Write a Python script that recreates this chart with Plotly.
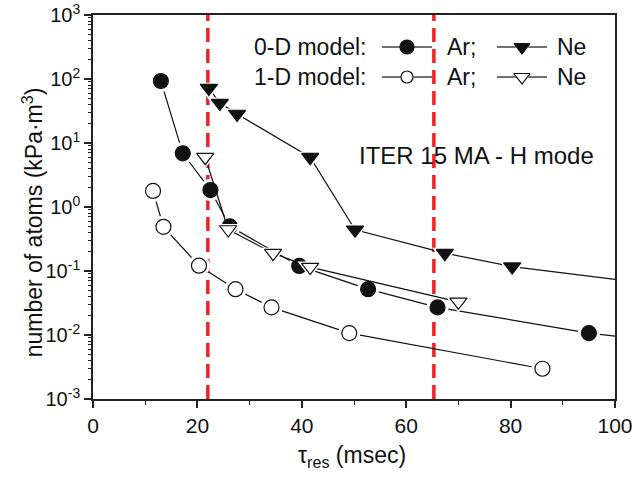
import plotly.graph_objects as go

# Residence time (msec) vs. number of impurity atoms (kPa·m^3)
ar_0d_tau = [13.0, 17.2, 22.5, 26.2, 39.5, 52.7, 66.0, 95.0]
ar_0d_n = [93.0, 6.9, 1.84, 0.50, 0.12, 0.052, 0.027, 0.0107]
ar_0d_tail = (100.0, 0.0096)

ne_0d_tau = [22.2, 24.3, 27.6, 41.6, 50.2, 67.4, 80.3]
ne_0d_n = [72.0, 42.0, 28.4, 6.0, 0.44, 0.19, 0.117]
ne_0d_tail = (100.0, 0.074)

ar_1d_tau = [11.5, 13.5, 20.3, 27.3, 34.2, 49.1, 86.1]
ar_1d_n = [1.78, 0.49, 0.121, 0.052, 0.027, 0.0107, 0.00297]

ne_1d_tau = [21.5, 25.9, 34.5, 41.6, 70.0]
ne_1d_n = [6.0, 0.445, 0.19, 0.115, 0.033]

# vertical reference lines (msec)
tau_limits = [22.0, 65.3]

y_tick_exps = [-3, -2, -1, 0, 1, 2, 3]
x_tick_vals = [0, 20, 40, 60, 80, 100]

FONT = "Liberation Sans, Arial, sans-serif"
INK = "#111111"

fig = go.Figure()


def add_series(xs, ys, symbol, filled, size, tail=None):
    lx, ly = list(xs), list(ys)
    if tail is not None:
        lx.append(tail[0])
        ly.append(tail[1])
    fig.add_trace(go.Scatter(x=lx, y=ly, mode="lines",
                             line=dict(color=INK, width=1.2),
                             hoverinfo="skip", showlegend=False))
    # white halo so the connecting line stops short of each symbol
    fig.add_trace(go.Scatter(x=xs, y=ys, mode="markers",
                             marker=dict(symbol=symbol, size=size + 7, color="white",
                                         line=dict(width=0)),
                             hoverinfo="skip", showlegend=False))
    fig.add_trace(go.Scatter(x=xs, y=ys, mode="markers",
                             marker=dict(symbol=symbol, size=size,
                                         color=INK if filled else "white",
                                         line=dict(color=INK, width=1.2)),
                             showlegend=False))


add_series(ar_0d_tau, ar_0d_n, "circle", True, 15, ar_0d_tail)
add_series(ne_0d_tau, ne_0d_n, "triangle-down", True, 15, ne_0d_tail)
add_series(ar_1d_tau, ar_1d_n, "circle", False, 15)
add_series(ne_1d_tau, ne_1d_n, "triangle-down", False, 15)

# hand-built key, drawn on an overlay axis spanning the plot area (0..1)
def key_sample(xc, yc, symbol, filled, size):
    half = 0.048
    for x0, x1 in ((xc - half, xc - 0.012), (xc + 0.012, xc + half)):
        fig.add_trace(go.Scatter(x=[x0, x1], y=[yc, yc], mode="lines",
                                 line=dict(color=INK, width=1.2),
                                 xaxis="x2", yaxis="y2",
                                 hoverinfo="skip", showlegend=False))
    fig.add_trace(go.Scatter(x=[xc], y=[yc], mode="markers",
                             marker=dict(symbol=symbol, size=size,
                                         color=INK if filled else "white",
                                         line=dict(color=INK, width=1.2)),
                             xaxis="x2", yaxis="y2",
                             hoverinfo="skip", showlegend=False))


rows = [(0.9167, True, "0-D model:"), (0.8385, False, "1-D model:")]
for yc, filled, label in rows:
    key_sample(0.6015, yc, "circle", filled, 14 if filled else 12)
    key_sample(0.8218, yc, "triangle-down", filled, 14)

annotations = []
for yc, filled, label in rows:
    annotations.append(dict(text=label, x=0.5268, y=yc, xref="paper", yref="paper",
                            xanchor="right", yanchor="middle", showarrow=False,
                            font=dict(family=FONT, size=23, color=INK)))
    annotations.append(dict(text="Ar;", x=0.6743, y=yc, xref="paper", yref="paper",
                            xanchor="left", yanchor="middle", showarrow=False,
                            font=dict(family=FONT, size=23, color=INK)))
    annotations.append(dict(text="Ne", x=0.885, y=yc, xref="paper", yref="paper",
                            xanchor="left", yanchor="middle", showarrow=False,
                            font=dict(family=FONT, size=23, color=INK)))

annotations.append(dict(text="ITER 15 MA - H mode", x=0.5057, y=0.635,
                        xref="paper", yref="paper", xanchor="left", yanchor="middle",
                        showarrow=False, font=dict(family=FONT, size=24, color=INK)))

annotations.append(dict(text="number of atoms (kPa·m<sup>3</sup>)", textangle=-90,
                        x=-0.115, y=0.46, xref="paper", yref="paper",
                        xanchor="center", yanchor="middle", showarrow=False,
                        font=dict(family=FONT, size=23, color=INK)))
annotations.append(dict(text="τ<sub>res</sub> (msec)", x=0.497, y=-0.15,
                        xref="paper", yref="paper", xanchor="center", yanchor="middle",
                        showarrow=False, font=dict(family=FONT, size=23, color=INK)))

shapes = [dict(type="line", xref="x", yref="paper", x0=t, x1=t, y0=0, y1=1,
               line=dict(color="#ee2226", width=3.5, dash="14px,7px"), layer="below")
          for t in tau_limits]

minor_y = [m * 10.0 ** e for e in range(-3, 3) for m in range(2, 10)]

fig.update_layout(
    width=632, height=479,
    margin=dict(l=93, r=17, t=15, b=80),
    paper_bgcolor="white", plot_bgcolor="white",
    showlegend=False,
    font=dict(family=FONT, size=21, color=INK),
    annotations=annotations,
    shapes=shapes,
    xaxis=dict(range=[0, 100], tickvals=x_tick_vals, ticks="outside", ticklen=7,
               tickwidth=1.5, tickcolor="#222", showline=True, mirror=True,
               linecolor="#222", linewidth=1.6, showgrid=False, zeroline=False,
               ticklabeloverflow="allow", automargin=False,
               tickfont=dict(family=FONT, size=21, color=INK),
               minor=dict(dtick=10, ticks="outside", ticklen=4, tickcolor="#222",
                          tickwidth=1.2, showgrid=False)),
    yaxis=dict(type="log", range=[-3, 3],
               tickvals=[10.0 ** e for e in y_tick_exps],
               ticktext=["10<sup>%d</sup>" % e for e in y_tick_exps],
               ticks="outside", ticklen=7, tickwidth=1.5, tickcolor="#222",
               showline=True, mirror=True, linecolor="#222", linewidth=1.6,
               showgrid=False, zeroline=False, automargin=False,
               tickfont=dict(family=FONT, size=20, color=INK),
               minor=dict(tickvals=minor_y, ticks="outside", ticklen=3,
                          tickcolor="#222", tickwidth=1, showgrid=False)),
    xaxis2=dict(overlaying="x", range=[0, 1], visible=False),
    yaxis2=dict(overlaying="y", range=[0, 1], visible=False),
)

fig.write_html("out.html")
